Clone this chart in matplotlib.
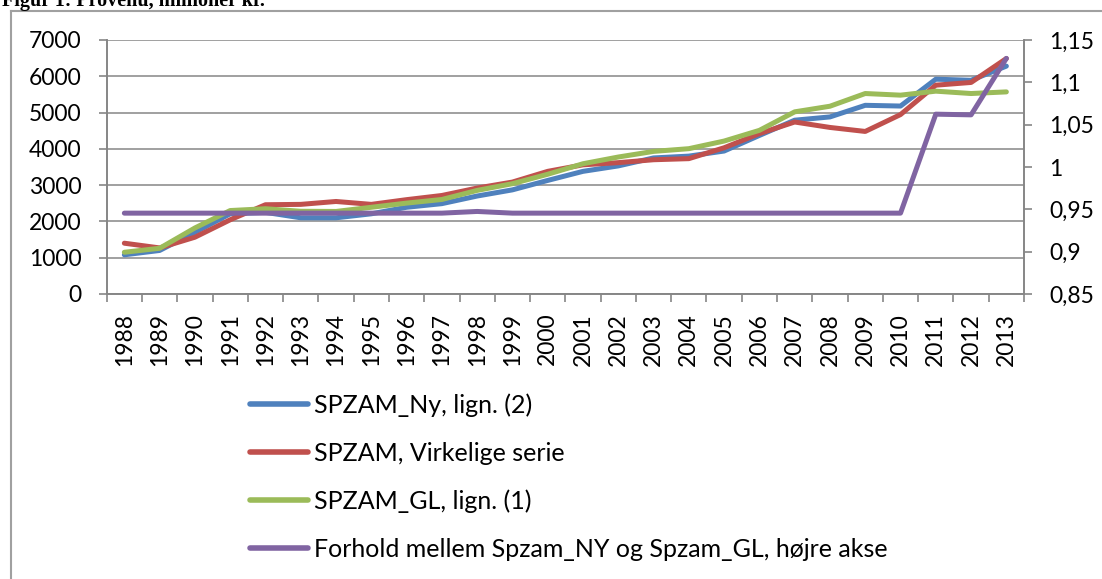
import matplotlib
matplotlib.use('Agg')
import matplotlib.pyplot as plt
from matplotlib.lines import Line2D
from matplotlib.ticker import FixedLocator, MultipleLocator, FuncFormatter

years = [str(y) for y in range(1988, 2014)]

spzam_ny = [1080, 1200, 1700, 2210, 2250, 2100, 2100, 2210, 2390, 2490, 2700, 2870,
            3130, 3380, 3530, 3750, 3800, 3940, 4370, 4790, 4880, 5200, 5180, 5920,
            5890, 6280]
spzam_virk = [1400, 1270, 1565, 2045, 2460, 2470, 2550, 2470, 2600, 2715, 2920, 3085,
              3380, 3560, 3620, 3700, 3730, 4030, 4420, 4740, 4590, 4480, 4945, 5755,
              5830, 6490]
spzam_gl = [1150, 1260, 1820, 2300, 2350, 2280, 2275, 2390, 2505, 2605, 2855, 3040,
            3300, 3590, 3775, 3930, 4005, 4215, 4510, 5020, 5175, 5525, 5480, 5590,
            5525, 5570]
forhold = [0.9455, 0.9455, 0.9455, 0.9455, 0.9455, 0.9455, 0.9455, 0.9455, 0.9455,
           0.9455, 0.9475, 0.9455, 0.9455, 0.9455, 0.9455, 0.9455, 0.9455, 0.9455,
           0.9455, 0.9455, 0.9455, 0.9455, 0.9455, 1.0624, 1.0616, 1.1283]

labels = ["SPZAM_Ny, lign. (2)", "SPZAM, Virkelige serie", "SPZAM_GL, lign. (1)",
          "Forhold mellem Spzam_NY og Spzam_GL, højre akse"]
colors = ["#4F81BD", "#C0504D", "#9BBB59", "#8064A2"]

W, H = 1102, 579
GREY = "#868686"
FS = 16.5
FS_LEG = 18

plt.rcParams['font.family'] = ['Lato', 'DejaVu Sans']

fig = plt.figure(figsize=(W / 100, H / 100), dpi=100)
ax = fig.add_axes([106.7 / W, 1 - 294 / H, (1024 - 106.7) / W, (294 - 40) / H])
ax2 = ax.twinx()

x = list(range(len(years)))
lines = []
for vals, c, lab in zip([spzam_ny, spzam_virk, spzam_gl], colors[:3], labels[:3]):
    l, = ax.plot(x, vals, color=c, lw=3.6, solid_capstyle='round',
                 solid_joinstyle='round', label=lab)
    lines.append(l)
l, = ax2.plot(x, forhold, color=colors[3], lw=3.6, solid_capstyle='round',
              solid_joinstyle='round', label=labels[3])
lines.append(l)

ax.set_xlim(-0.5, len(years) - 0.5)
ax.set_ylim(0, 7000)
ax2.set_ylim(0.85, 1.15)

ax.yaxis.set_major_locator(MultipleLocator(1000))
ax2.yaxis.set_major_locator(MultipleLocator(0.05))
ax2.yaxis.set_major_formatter(FuncFormatter(
    lambda v, p: ("%.2f" % v).rstrip('0').rstrip('.').replace('.', ',')))

ax.xaxis.set_major_locator(FixedLocator([i - 0.5 for i in range(len(years) + 1)]))
ax.xaxis.set_major_formatter(FuncFormatter(lambda v, p: ""))
ax.xaxis.set_minor_locator(FixedLocator(x))
ax.set_xticklabels(years, minor=True, rotation=90, fontsize=FS)
ax.tick_params(axis='x', which='minor', length=0, pad=13.5)
ax.tick_params(axis='x', which='major', length=6, color=GREY, width=1.2)
ax.tick_params(axis='y', length=6, color=GREY, width=1.2, labelsize=FS, pad=12)
ax2.tick_params(axis='y', length=6, color=GREY, width=1.2, labelsize=FS, pad=12)

ax.grid(axis='y', color=GREY, lw=1.1)
ax.set_axisbelow(True)
for a in (ax, ax2):
    a.spines['top'].set_visible(False)
    for s in ('left', 'right', 'bottom'):
        a.spines[s].set_color(GREY)
        a.spines[s].set_linewidth(1.2)

leg = fig.legend(handles=lines, labels=labels, loc='upper left',
                 bbox_to_anchor=(250 / W, 1 - 393 / H), frameon=False,
                 fontsize=FS_LEG, handlelength=2.3, handletextpad=0.25,
                 labelspacing=1.0, borderpad=0, borderaxespad=0)
for h in leg.legend_handles:
    h.set_linewidth(4)
    h.set_solid_capstyle('round')

# frame of the chart box (only left and top edges are visible)
fig.add_artist(Line2D([11 / W, 11 / W], [0, 1 - 11 / H], color="#A0A0A0", lw=1.5,
                      transform=fig.transFigure))
fig.add_artist(Line2D([11 / W, 1], [1 - 11 / H, 1 - 11 / H], color="#A0A0A0", lw=1.5,
                      transform=fig.transFigure))

fig.text(2 / W, 1 - 6 / H, "Figur 1: Provenu, millioner kr.", family='Liberation Serif',
         weight='bold', fontsize=14.5, va='baseline', ha='left')

fig.savefig("out.png", dpi=100)
